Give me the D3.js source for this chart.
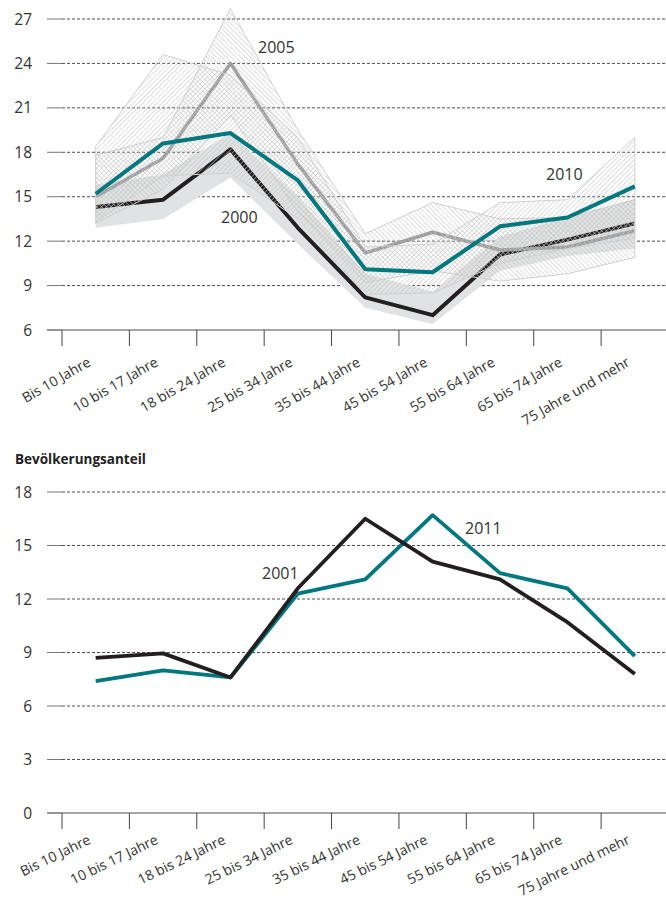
<!DOCTYPE html>
<html>
<head>
<meta charset="utf-8">
<script src="https://cdn.jsdelivr.net/npm/d3@7"></script>
<style>
  body { margin: 0; background: #fff; }
  text { font-family: "Open Sans", sans-serif; fill: #333; }
</style>
</head>
<body>
<div id="visContainer"></div>
<script>
// Altersgruppen (x-Achse, beide Diagramme)
const ageGroups = ["Bis 10 Jahre", "10 bis 17 Jahre", "18 bis 24 Jahre", "25 bis 34 Jahre",
  "35 bis 44 Jahre", "45 bis 54 Jahre", "55 bis 64 Jahre", "65 bis 74 Jahre", "75 Jahre und mehr"];

// oberes Diagramm: Linien
const values2000 = [14.3, 14.8, 18.2, 12.9, 8.2, 7.0, 11.1, 12.1, 13.2];
const values2005 = [15.0, 17.6, 24.0, 17.2, 11.2, 12.6, 11.4, 11.6, 12.7];
const values2010 = [15.2, 18.6, 19.3, 16.1, 10.1, 9.9, 13.0, 13.6, 15.7];

// oberes Diagramm: Streubereiche
const band2000Low  = [12.9, 13.5, 16.3, 11.8, 7.5, 6.4, 10.0, 11.0, 11.5];
const band2000High = [15.8, 16.5, 19.3, 15.0, 9.8, 8.6, 12.3, 13.6, 14.8];
const band2005Low  = [13.2, 15.5, 20.5, 14.0, 9.2, 10.0, 9.3, 9.8, 10.9];
const band2005High = [17.8, 19.0, 27.7, 19.5, 12.5, 14.6, 13.5, 13.6, 14.8];
const band2010Low  = [13.3, 16.4, 16.6, 13.5, 8.4, 8.5, 10.5, 11.5, 12.2];
const band2010High = [18.4, 24.6, 23.2, 19.0, 11.6, 11.8, 14.6, 14.8, 19.0];

const topTicks = [6, 9, 12, 15, 18, 21, 24, 27];

// unteres Diagramm: Bevölkerungsanteil
const anteil2001 = [8.7, 8.95, 7.6, 12.6, 16.5, 14.1, 13.1, 10.7, 7.8];
const anteil2011 = [7.4, 8.0, 7.6, 12.3, 13.1, 16.7, 13.45, 12.6, 8.8];
const bottomTicks = [0, 3, 6, 9, 12, 15, 18];

const teal = "#00787e";
const black = "#231f20";
const grey = "#999a9c";

function drawVis() {
  const width = 666;
  const height = 905;

  const svg = d3.select("#visContainer")
    .append("svg")
    .attr("width", width)
    .attr("height", height);

  const defs = svg.append("defs");
  function hatch(id, angle) {
    const p = defs.append("pattern")
      .attr("id", id)
      .attr("patternUnits", "userSpaceOnUse")
      .attr("width", 3.4)
      .attr("height", 3.4)
      .attr("patternTransform", `rotate(${angle})`);
    p.append("line")
      .attr("x1", 0).attr("y1", 0).attr("x2", 0).attr("y2", 3.4)
      .attr("stroke", "#c4c4c4")
      .attr("stroke-width", 1.1);
  }
  hatch("hatch2005", -45);
  hatch("hatch2010", 45);

  const xScale = d3.scaleBand()
    .domain(ageGroups)
    .range([62, 668.5]);
  const cx = (i) => xScale(ageGroups[i]) + xScale.bandwidth() / 2;

  function drawFrame(yScale, ticks, axisY, labAngle, labDy) {
    const g = svg.append("g");
    // gridlines
    g.selectAll(".grid")
      .data(ticks.filter((t) => yScale(t) !== axisY))
      .join("line")
      .attr("x1", 62).attr("x2", width)
      .attr("y1", (d) => yScale(d)).attr("y2", (d) => yScale(d))
      .attr("stroke", "#222")
      .attr("stroke-width", 0.8)
      .attr("stroke-dasharray", "3,2");
    // y tick marks
    g.selectAll(".ytick")
      .data(ticks)
      .join("line")
      .attr("x1", 47).attr("x2", 62)
      .attr("y1", (d) => yScale(d)).attr("y2", (d) => yScale(d))
      .attr("stroke", "#777")
      .attr("stroke-width", 1);
    g.selectAll(".ylab")
      .data(ticks)
      .join("text")
      .attr("x", 32)
      .attr("y", (d) => yScale(d) + 5.5)
      .attr("text-anchor", "end")
      .style("font-size", "15.5px")
      .text((d) => d);
    // baseline
    g.append("line")
      .attr("x1", 47).attr("x2", width)
      .attr("y1", axisY).attr("y2", axisY)
      .attr("stroke", "#888")
      .attr("stroke-width", 1.5);
    // x ticks at band edges
    g.selectAll(".xtick")
      .data(ageGroups)
      .join("line")
      .attr("x1", (d) => xScale(d)).attr("x2", (d) => xScale(d))
      .attr("y1", axisY).attr("y2", axisY + 16)
      .attr("stroke", "#444")
      .attr("stroke-width", 1);
    g.selectAll(".xlab")
      .data(ageGroups)
      .join("text")
      .attr("text-anchor", "end")
      .attr("transform", (d, i) => `translate(${cx(i) - 4}, ${axisY + labDy}) rotate(${labAngle})`)
      .style("font-size", "14px")
      .text((d) => d);
  }

  function lineOf(yScale) {
    return d3.line().x((d, i) => cx(i)).y((d) => yScale(d)).curve(d3.curveLinear);
  }
  function areaOf(yScale, lows) {
    return d3.area()
      .x((d, i) => cx(i))
      .y0((d, i) => yScale(lows[i]))
      .y1((d) => yScale(d));
  }

  // ---------- oberes Diagramm ----------
  const yTop = d3.scaleLinear().domain([6, 27]).range([330, 19]);
  drawFrame(yTop, topTicks, 330, -30, 35);

  svg.append("path")
    .attr("d", areaOf(yTop, band2000Low)(band2000High))
    .attr("fill", "#e1e2e3");

  svg.append("path")
    .attr("d", lineOf(yTop)(values2000))
    .attr("fill", "none")
    .attr("stroke", black)
    .attr("stroke-width", 4)
    .attr("stroke-linejoin", "round");

  svg.append("path")
    .attr("d", lineOf(yTop)(values2005))
    .attr("fill", "none")
    .attr("stroke", grey)
    .attr("stroke-width", 3.5)
    .attr("stroke-linejoin", "round");

  svg.append("path")
    .attr("d", areaOf(yTop, band2005Low)(band2005High))
    .attr("fill", "url(#hatch2005)")
    .attr("stroke", "#d0d0d0")
    .attr("stroke-width", 1);

  svg.append("path")
    .attr("d", areaOf(yTop, band2010Low)(band2010High))
    .attr("fill", "url(#hatch2010)")
    .attr("stroke", "#d0d0d0")
    .attr("stroke-width", 1);

  svg.append("path")
    .attr("d", lineOf(yTop)(values2010))
    .attr("fill", "none")
    .attr("stroke", teal)
    .attr("stroke-width", 4)
    .attr("stroke-linejoin", "round");

  const topLabels = [
    { t: "2005", x: 258, y: 53 },
    { t: "2000", x: 221, y: 223 },
    { t: "2010", x: 546, y: 180 }
  ];
  svg.selectAll(".toplab")
    .data(topLabels)
    .join("text")
    .attr("x", (d) => d.x)
    .attr("y", (d) => d.y)
    .style("font-size", "16px")
    .text((d) => d.t);

  // ---------- unteres Diagramm ----------
  const yBottom = d3.scaleLinear().domain([0, 18]).range([813, 492]);

  svg.append("text")
    .attr("x", 15)
    .attr("y", 464)
    .style("font-size", "13.5px")
    .style("font-weight", "bold")
    .style("fill", "#222")
    .text("Bevölkerungsanteil");

  drawFrame(yBottom, bottomTicks, 813, -26, 30);

  svg.append("path")
    .attr("d", lineOf(yBottom)(anteil2011))
    .attr("fill", "none")
    .attr("stroke", teal)
    .attr("stroke-width", 3.8)
    .attr("stroke-linejoin", "round");

  svg.append("path")
    .attr("d", lineOf(yBottom)(anteil2001))
    .attr("fill", "none")
    .attr("stroke", black)
    .attr("stroke-width", 3.8)
    .attr("stroke-linejoin", "round");

  const bottomLabels = [
    { t: "2001", x: 262, y: 579 },
    { t: "2011", x: 465, y: 534 }
  ];
  svg.selectAll(".botlab")
    .data(bottomLabels)
    .join("text")
    .attr("x", (d) => d.x)
    .attr("y", (d) => d.y)
    .style("font-size", "16px")
    .text((d) => d.t);
}

drawVis();
</script>
</body>
</html>
